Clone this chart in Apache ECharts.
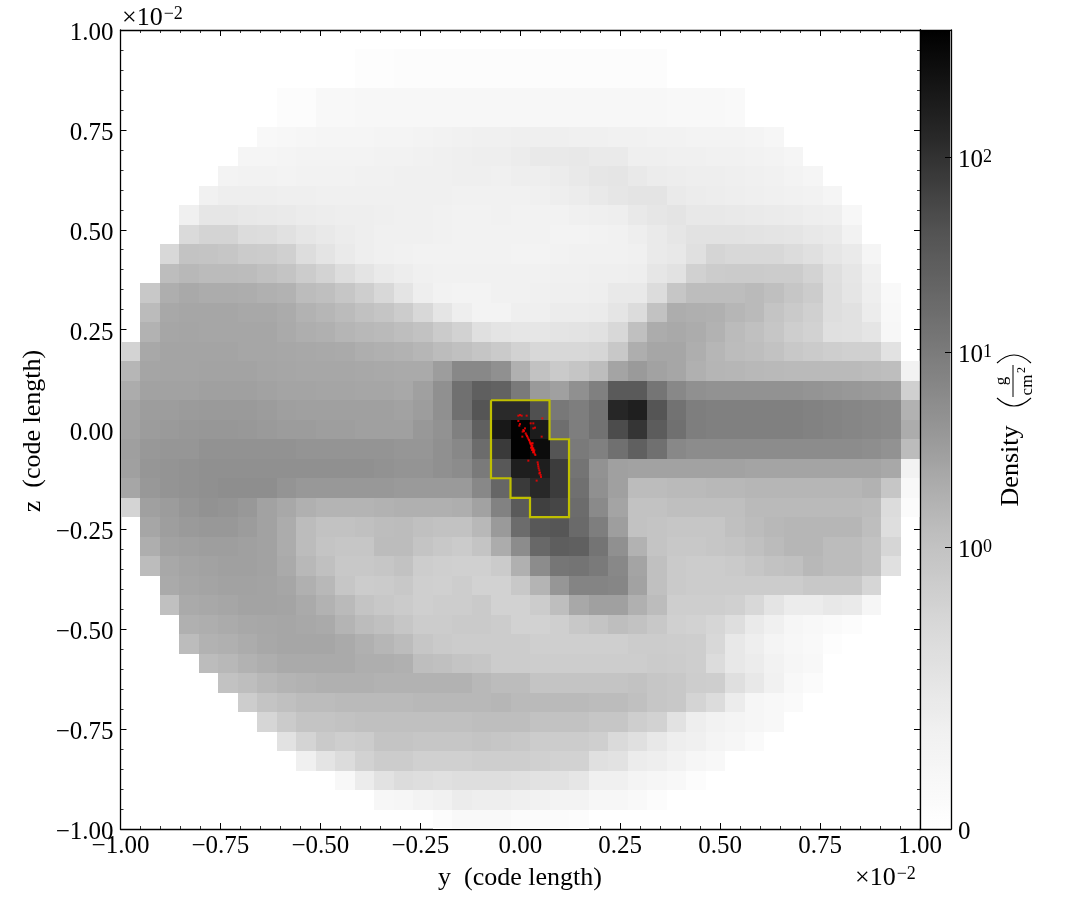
<!DOCTYPE html>
<html><head><meta charset="utf-8">
<style>html,body{margin:0;padding:0;background:#fff}#c{width:1085px;height:920px}</style>
<script src="https://cdn.jsdelivr.net/npm/echarts@6/dist/echarts.min.js"></script>
</head><body><div id="c"></div>
<script>
// Density: rowFirstCol[j] is the first filled column of row j, density[j] the values from there on.
const nCells = 41;
const rowFirstCol = [0,12,12,8,8,7,6,5,4,3,3,2,2,1,1,1,0,0,0,0,0,0,0,0,0,1,1,1,2,2,3,3,4,5,6,7,8,9,11,13,16];
const density = [
[],
[.05,.05,.07,.07,.07,.07,.07,.07,.07,.07,.07,.07,.07,.07,.07,.07],
[.05,.05,.07,.07,.07,.07,.07,.07,.07,.07,.07,.07,.07,.07,.07,.07],
[.07,.07,.165,.165,.19,.19,.19,.19,.19,.19,.19,.19,.19,.19,.19,.19,.19,.19,.19,.19,.165,.165,.165,.14],
[.07,.07,.165,.165,.19,.19,.19,.19,.19,.19,.19,.19,.19,.19,.19,.19,.19,.19,.19,.19,.165,.165,.165,.14],
[.165,.19,.21,.24,.24,.24,.26,.26,.28,.31,.33,.35,.35,.37,.37,.37,.35,.35,.33,.33,.31,.31,.28,.28,.28,.26,.21],
[.24,.24,.26,.28,.28,.28,.28,.31,.31,.33,.35,.37,.385,.385,.415,.46,.46,.475,.445,.445,.37,.37,.35,.35,.33,.33,.31,.28,.24],
[.28,.31,.31,.28,.31,.31,.31,.33,.33,.35,.35,.35,.37,.37,.35,.385,.385,.415,.46,.51,.525,.46,.415,.40,.385,.385,.37,.35,.33,.28,.24],
[.33,.385,.385,.385,.37,.37,.35,.35,.35,.35,.35,.35,.35,.33,.33,.33,.33,.35,.385,.415,.46,.51,.54,.54,.445,.415,.40,.385,.37,.35,.33,.31,.24],
[.35,.51,.51,.475,.46,.445,.415,.40,.385,.385,.37,.35,.35,.33,.31,.31,.33,.31,.31,.31,.35,.37,.385,.46,.51,.54,.475,.475,.46,.445,.43,.415,.385,.37,.19],
[.695,.77,.77,.66,.645,.585,.51,.46,.415,.385,.35,.35,.35,.33,.31,.31,.31,.31,.31,.28,.28,.31,.33,.385,.445,.51,.57,.57,.57,.555,.54,.525,.475,.445,.31],
[.72,.985,.975,.95,.885,.87,.82,.645,.54,.445,.385,.35,.33,.31,.31,.31,.31,.31,.28,.28,.31,.33,.33,.33,.35,.445,.475,.60,.76,.72,.72,.72,.66,.60,.51,.445,.24],
[1.24,1.44,1.31,1.31,1.27,1.09,.975,.87,.785,.645,.54,.445,.40,.35,.33,.33,.33,.33,.33,.33,.35,.35,.37,.37,.385,.51,.57,.81,.87,.885,.885,.87,.87,.785,.62,.51,.35],
[.925,1.94,2.26,2.06,2.06,2.0,1.83,1.72,1.27,1.13,.95,.85,.72,.54,.385,.31,.28,.28,.33,.33,.35,.37,.37,.385,.46,.46,.66,.95,1.24,1.24,1.24,1.35,1.13,.95,.87,.63,.525,.385,.14],
[1.31,2.31,2.48,2.48,2.48,2.31,2.31,2.13,1.72,1.51,1.31,1.04,.96,.87,.72,.525,.385,.28,.28,.37,.37,.415,.415,.43,.525,.66,1.0,2.0,1.88,1.83,1.51,1.35,.975,.90,.82,.63,.585,.415,.165],
[1.72,2.48,2.54,2.48,2.48,2.48,2.48,2.18,1.94,1.83,1.57,1.44,1.35,1.18,1.0,.885,.80,.60,.54,.51,.51,.54,.555,.585,.72,1.09,2.06,2.26,2.06,1.72,1.31,1.09,.95,.85,.80,.60,.585,.525,.19],
[.785,2.31,2.63,2.63,2.63,2.63,2.48,2.48,2.39,2.31,2.26,2.18,1.94,1.83,1.72,1.51,1.27,1.09,.96,.90,.80,.72,.72,.72,.745,.925,1.94,2.48,2.48,1.94,1.51,1.27,1.18,1.0,.925,.885,.85,.82,.82,.57],
[1.51,2.54,2.63,2.63,2.70,2.70,2.70,2.54,2.48,2.39,2.39,2.39,2.31,2.26,2.18,2.18,3.26,6.4,6.4,4.87,1.83,1.0,.90,.96,1.24,2.63,3.54,2.80,2.48,1.83,1.57,1.51,1.44,1.39,1.35,1.35,1.35,1.35,1.27,1.18,.31],
[2.06,2.80,2.80,2.80,2.96,2.96,2.96,2.80,2.63,2.63,2.54,2.54,2.48,2.48,2.31,2.96,4.87,14.5,26.6,24,10.2,3.54,2.96,4.87,8.4,31.8,31.8,12.2,6.4,4.87,4.58,4.58,4.58,4.58,4.58,4.28,4.0,3.78,3.54,3.34,.82],
[2.70,3.26,3.26,3.45,3.54,3.54,3.54,3.34,3.06,2.96,2.96,2.96,2.96,2.96,2.80,3.26,4.87,14.5,37.9,121,121,44.8,11,9.0,13.5,135,167,37.9,13.5,9.0,8.4,8.4,8.4,8.4,8.4,7.8,7.36,6.9,6.4,6.0,1.72],
[2.80,3.34,3.54,3.78,3.9,3.9,3.78,3.54,3.34,3.34,3.14,3.14,2.96,2.96,2.96,3.78,4.58,8.4,25.7,208,420,183,15.5,9.0,13.5,50,91,29.6,14.5,9.0,8.4,8.4,8.4,8.4,8.4,7.8,7.36,6.9,6.4,6.0,2.06],
[3.06,3.78,4.0,4.0,4.58,4.58,4.58,4.58,4.58,4.28,4.28,4.28,4.28,4.28,4.0,4.0,4.87,6.4,16.8,80,420,304,37.9,10.2,8.4,14.5,25.7,14.5,6.4,5.6,5.6,5.6,5.6,5.6,5.6,5.6,5.6,5.6,5.23,4.58,1.27],
[2.96,4.0,4.28,4.58,4.87,4.87,4.87,4.87,4.87,4.87,4.87,4.87,4.87,4.58,4.28,4.28,4.87,5.6,10.2,34,172,172,75,12.5,4.58,2.96,2.80,2.80,2.80,2.80,2.80,2.80,2.63,2.63,2.63,2.63,2.63,2.63,2.63,2.31,.31],
[2.48,3.78,4.28,4.58,4.87,5.23,5.23,5.23,4.28,3.78,3.78,3.78,3.78,3.78,3.54,3.54,3.54,3.54,6.4,20.7,80,129,75,14.5,4.87,2.96,1.27,1.27,1.35,1.35,1.44,1.44,1.51,1.51,1.51,1.51,1.51,1.51,1.72,.95,.165],
[.77,2.96,3.34,4.0,4.58,4.28,3.78,2.80,2.31,1.83,1.62,1.62,1.62,1.72,1.83,1.83,1.83,1.94,2.80,7.8,31.8,68,58,16.8,6.0,2.63,1.0,1.0,1.13,1.13,1.13,1.13,1.35,1.35,1.35,1.35,1.35,1.35,1.27,.66,.09],
[2.48,3.14,3.54,3.78,3.78,3.34,2.80,2.06,1.27,1.0,1.0,1.09,1.24,1.27,1.09,1.0,1.0,1.44,3.54,16.8,34,36.5,18,9.0,3.14,1.0,.975,.95,.95,.95,1.09,1.27,1.44,1.51,1.51,1.51,1.51,1.18,.63],
[1.94,2.80,2.96,3.14,3.14,2.96,2.80,2.06,1.27,.975,.95,.95,1.27,1.27,.975,.925,.885,.975,2.06,5.6,19.3,27.6,25.7,12.5,4.87,1.72,.975,.925,.925,.95,.975,1.09,1.31,1.51,1.51,1.27,1.27,1.0,.745],
[1.27,2.31,2.63,2.80,2.96,2.96,2.80,2.18,1.44,1.09,.925,.925,.95,1.0,.86,.835,.82,.82,.885,1.83,5.6,11.8,12.5,10.2,6.4,2.63,1.09,.90,.87,.87,.90,.95,1.0,1.09,1.44,1.27,1.27,1.0,.60],
[2.18,2.48,2.63,2.80,2.80,2.70,2.48,1.83,1.44,.95,.87,.885,.925,.835,.82,.86,.80,.80,.925,1.62,4.0,7.36,7.36,6.9,2.80,1.09,.90,.87,.87,.87,.87,.87,.87,.925,.925,.925,.745],
[1.09,2.18,2.31,2.48,2.70,2.70,2.63,2.18,1.72,1.35,.975,.925,.885,.835,.86,.86,.90,.80,.80,.87,1.18,2.31,2.96,2.96,1.83,1.27,.85,.85,.85,.82,.72,.54,.415,.415,.475,.445,.21],
[1.83,1.94,2.13,2.31,2.39,2.48,2.31,2.18,1.62,1.27,1.09,.95,.87,.87,.90,.90,.87,.80,.80,.835,.925,.975,1.18,1.0,.925,.82,.80,.745,.63,.445,.35,.21,.165,.12,.07],
[1.27,1.72,1.83,2.06,2.31,2.48,2.48,2.48,2.18,1.83,1.51,1.27,.95,.90,.87,.87,.87,.87,.835,.835,.835,.835,.835,.87,.87,.86,.85,.72,.475,.385,.26,.19,.14,.05],
[1.27,1.44,1.72,1.94,2.18,2.18,2.18,2.18,1.94,1.94,1.83,1.18,1.09,.975,.95,.87,.87,.86,.86,.86,.86,.86,.86,.885,.87,.85,.66,.475,.415,.31,.21,.165],
[1.0,1.18,1.44,1.62,1.72,1.83,1.83,1.83,1.72,1.72,1.72,1.72,1.72,1.44,1.27,1.27,.975,.975,.975,.975,.975,1.0,.95,.925,.86,.85,.62,.475,.33,.165,.09],
[.86,.975,1.09,1.27,1.27,1.35,1.35,1.35,1.35,1.44,1.44,1.44,1.44,1.51,1.35,1.35,1.35,1.35,1.27,1.27,1.09,.95,.925,.77,.66,.415,.21,.165,.12],
[.745,.885,.975,.975,1.0,1.09,1.09,1.09,1.09,1.09,1.09,1.18,1.18,1.18,1.0,1.0,1.0,.95,.95,.85,.80,.57,.385,.31,.26,.21,.165],
[.57,.77,.90,.85,.87,.975,.975,.95,.95,.95,.975,.95,.925,.87,.87,.87,.835,.695,.60,.475,.385,.35,.26,.21,.12],
[.35,.54,.66,.80,.87,.87,.82,.82,.82,.85,.85,.85,.82,.80,.80,.60,.57,.415,.385,.31,.21,.165],
[.165,.415,.57,.66,.63,.60,.63,.63,.63,.60,.57,.57,.51,.35,.35,.26,.21,.165,.07],
[.19,.21,.28,.33,.415,.385,.385,.35,.31,.28,.28,.19,.19,.14,.07],
[.07,.14,.14,.14,.09,.09,.09,.07]
];
// Yellow contour, in axis units
const contourY = [-.0732,.0732,.0732,.122,.122,.0244,.0244,-.0244,-.0244,-.0732,-.0732];
const contourZ = [.0732,.0732,-.0244,-.0244,-.2195,-.2195,-.171,-.171,-.122,-.122,.0732];
// Red particles, in axis units
const particleY = [.0135,.0152,.0169,.0185,.0202,.0219,.0235,.0244,.026,.0277,.0294,.0302,.0319,.0327,.0344,.036,.0377,.0269,.0302,.0327,.0294,.0352,.0319,.0285,.031,.0435,.0444,.0452,.046,.0477,.0494,.051,.0519,.0477,-.0007,-.0048,.0035,.016,-.0048,-.0007,-.0023,.0119,.0077,.006,.0052,.0094,.0552,.026,.0327,.0369,.0327,.0536,.0202,.041];
const particleZ = [-.0096,-.0129,-.0163,-.0196,-.0229,-.0263,-.0296,-.0329,-.0363,-.0396,-.0429,-.0463,-.0496,-.0529,-.0563,-.0605,-.0638,-.0455,-.0404,-.0471,-.0513,-.0521,-.0571,-.0345,-.0345,-.0822,-.0872,-.0922,-.0972,-.1022,-.108,-.1138,-.1188,-.1097,.0363,.0346,.0346,.0346,.0213,.0138,.0096,.0029,-.0013,-.0054,-.0179,-.0037,.0279,.0154,.0154,.0046,.0029,-.0179,-.078,-.128];
const colorTicks = [0,1,10,100];
const colorTickLabels = ['{b|0}','{b|10}{s|0}','{b|10}{s|1}','{b|10}{s|2}'];
const greys = ['#ffffff','#f0f0f0','#d9d9d9','#bdbdbd','#969696','#737373','#525252','#252525','#000000'];

// Colour bar scale: linear from 0 to 1, logarithmic above it.
const linShare = 282/799, decadeShare = 195/799;
const norm = v => v <= 1 ? v*linShare : linShare + decadeShare*Math.log10(v);
const cellW = 2/nCells;
const cells = [];
density.forEach((row,j)=>row.forEach((v,k)=>{
  const c = rowFirstCol[j]+k;
  cells.push([-1+(c+.5)*cellW, 1-(j+.5)*cellW, v, norm(v)]);
}));
const FONT = 'Liberation Serif';
const txt = (text,x,y,size,rot,align) => ({type:'text',x,y,rotation:rot||0,silent:true,z:20,
  style:{text,fontFamily:FONT,fontSize:size,fill:'#000',align:align||'center',verticalAlign:'middle'}});
const exp = (x,y) => ({type:'text',x,y,silent:true,z:20,style:{
  text:'{b|\u00d710}{s|\u22122}',fontFamily:FONT,align:'left',verticalAlign:'middle',
  rich:{b:{fontFamily:FONT,fontSize:26,fill:'#000',verticalAlign:'bottom'},s:{fontFamily:FONT,fontSize:18,fill:'#000',verticalAlign:'top',padding:[0,0,7,1]}}}});
const Q = Math.PI/2;
const curve = (x1,y1,x2,y2,cx,cy) => ({type:'bezierCurve',silent:true,z:20,shape:{x1,y1,x2,y2,cpx1:cx,cpy1:cy},style:{stroke:'#000',lineWidth:1.1,fill:null}});
const baseAxis = (o) => Object.assign({type:'value',min:-1,max:1,interval:.25,silent:true,
  axisLine:{show:true,onZero:false,lineStyle:{color:'#000',width:1.3}},
  axisTick:{show:true,inside:true,length:6,lineStyle:{color:'#000',width:1}},
  minorTick:{show:true,splitNumber:5,length:3,lineStyle:{color:'#000',width:.8}},
  splitLine:{show:false},minorSplitLine:{show:false}},o);
const fmt = v=>(v<0?'\u2212':'')+Math.abs(v).toFixed(2);
const lab = {show:true,fontFamily:FONT,fontSize:25,color:'#000',formatter:fmt,showMinLabel:true,showMaxLabel:true,hideOverlap:false};
const frame = (o) => Object.assign({type:'value',gridIndex:1,min:0,max:1,silent:true,z:6,
  axisLine:{show:true,onZero:false,lineStyle:{color:'#000',width:1.3}},
  axisTick:{show:false},axisLabel:{show:false},splitLine:{show:false}},o);
const chart = echarts.init(document.getElementById('c'),null,{renderer:'canvas'});
chart.setOption({
  animation:false,backgroundColor:'#fff',
  grid:[{left:120.5,top:30,width:799.5,height:799,containLabel:false},
        {left:920,top:30,width:31,height:799,show:false}],
  xAxis:[baseAxis({position:'bottom',axisLabel:Object.assign({},lab,{margin:5})}),
         baseAxis({position:'top',axisLabel:{show:false}}),
         frame({position:'bottom'}),
         frame({position:'top'})],
  yAxis:[baseAxis({position:'left',axisLabel:Object.assign({},lab,{margin:7,padding:[7,0,0,0],
            formatter:v=>'{b|'+fmt(v)+'}',rich:{b:{fontFamily:FONT,fontSize:25,color:'#000'}}})}),
         baseAxis({position:'right',axisLabel:{show:false}}),
         frame({position:'right',
          axisTick:{show:true,inside:true,length:6,lineStyle:{color:'#000',width:1},customValues:colorTicks.map(norm)},
          axisLabel:{show:true,margin:7,padding:[7,0,0,0],customValues:colorTicks.map(norm),
            formatter:v=>{const i=colorTicks.findIndex(t=>Math.abs(norm(t)-v)<1e-6);return i<0?'':colorTickLabels[i];},
            rich:{b:{fontFamily:FONT,fontSize:25,color:'#000',verticalAlign:'bottom'},s:{fontFamily:FONT,fontSize:18,color:'#000',verticalAlign:'top',padding:[0,0,7,0]}}}}),
         frame({position:'left'})],
  visualMap:[{type:'continuous',min:0,max:1,dimension:3,seriesIndex:0,calculable:false,realtime:false,
    orient:'vertical',left:920.5,top:30,itemWidth:30,itemHeight:799,padding:0,text:null,showLabel:false,
    hoverLink:false,inRange:{color:greys},z:1}],
  series:[
    {type:'custom',data:cells,xAxisIndex:0,yAxisIndex:0,encode:{x:0,y:1},silent:true,z:1,clip:true,
     renderItem:(p,api)=>{
       const a=api.coord([api.value(0)-cellW/2,api.value(1)+cellW/2]);
       const b=api.coord([api.value(0)+cellW/2,api.value(1)-cellW/2]);
       const x0=Math.round(a[0]),y0=Math.round(a[1]),x1=Math.round(b[0]),y1=Math.round(b[1]);
       return {type:'rect',shape:{x:x0,y:y0,width:x1-x0,height:y1-y0},style:{fill:api.visual('color')}};
     }},
    {type:'line',data:contourY.map((y,i)=>[y,contourZ[i]]),xAxisIndex:0,yAxisIndex:0,showSymbol:false,symbol:'none',silent:true,z:3,
     lineStyle:{color:'#bfbf00',width:2.2,join:'miter'}},
    {type:'scatter',data:particleY.map((y,i)=>[y,particleZ[i]]),xAxisIndex:0,yAxisIndex:0,silent:true,z:4,
     symbol:'rect',symbolSize:2,itemStyle:{color:'#ff0000'}},
    {type:'line',data:[],xAxisIndex:2,yAxisIndex:2},
    {type:'line',data:[],xAxisIndex:3,yAxisIndex:3},
    {type:'line',data:[],xAxisIndex:1,yAxisIndex:1}
  ],
  graphic:{elements:[
    txt('y  (code length)',520,878,26),
    txt('z  (code length)',33,431,26,Q),
    exp(122,18),
    exp(855,878),
    txt('Density',1011,466,26,Q),
    curve(997,398,1031,398,1014,414),
    curve(997,363,1031,363,1014,347),
    txt('g',1002,381,17,Q),
    txt('cm',1028,385,17,Q),
    txt('2',1022,370,12,Q),
    {type:'line',silent:true,z:20,shape:{x1:1013,y1:365,x2:1013,y2:397},style:{stroke:'#000',lineWidth:1}}
  ]}
});
</script></body></html>
